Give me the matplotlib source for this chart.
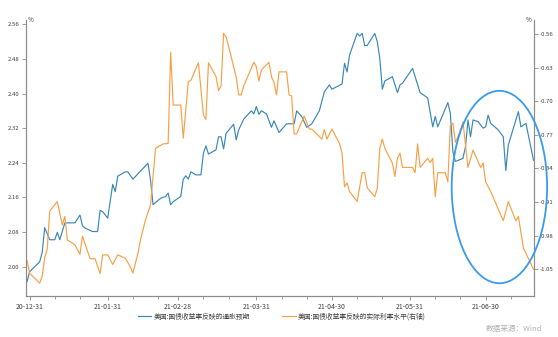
import numpy as np
import pandas as pd
import matplotlib
matplotlib.use("Agg")
import matplotlib.pyplot as plt
import matplotlib.dates as mdates
from matplotlib.patches import Ellipse

plt.rcParams['font.family'] = ['Noto Sans CJK SC', 'DejaVu Sans']

# 通胀预期 (左轴, %)
infl_dates = [
    "2020-12-30", "2020-12-31", "2021-01-04", "2021-01-05", "2021-01-06", "2021-01-08", "2021-01-10", "2021-01-11", "2021-01-12", "2021-01-14",
    "2021-01-18", "2021-01-20", "2021-01-21", "2021-01-22", "2021-01-25", "2021-01-27", "2021-01-28", "2021-01-29", "2021-01-31", "2021-02-02",
    "2021-02-03", "2021-02-04", "2021-02-07", "2021-02-08", "2021-02-10", "2021-02-16", "2021-02-17", "2021-02-18", "2021-02-21", "2021-02-23",
    "2021-02-24", "2021-02-25", "2021-02-26", "2021-03-01", "2021-03-02", "2021-03-03", "2021-03-04", "2021-03-05", "2021-03-07", "2021-03-09",
    "2021-03-10", "2021-03-11", "2021-03-12", "2021-03-15", "2021-03-16", "2021-03-17", "2021-03-18", "2021-03-19", "2021-03-22", "2021-03-23",
    "2021-03-24", "2021-03-26", "2021-03-29", "2021-03-30", "2021-03-31", "2021-04-01", "2021-04-02", "2021-04-04", "2021-04-06", "2021-04-07",
    "2021-04-09", "2021-04-12", "2021-04-15", "2021-04-16", "2021-04-18", "2021-04-20", "2021-04-22", "2021-04-25", "2021-04-27", "2021-04-29",
    "2021-04-30", "2021-05-04", "2021-05-05", "2021-05-06", "2021-05-07", "2021-05-10", "2021-05-11", "2021-05-12", "2021-05-13", "2021-05-14",
    "2021-05-17", "2021-05-18", "2021-05-19", "2021-05-20", "2021-05-21", "2021-05-24", "2021-05-26", "2021-05-27", "2021-05-28", "2021-06-01",
    "2021-06-04", "2021-06-07", "2021-06-09", "2021-06-10", "2021-06-11", "2021-06-15", "2021-06-16", "2021-06-17", "2021-06-18", "2021-06-21",
    "2021-06-22", "2021-06-23", "2021-06-24", "2021-06-25", "2021-06-27", "2021-06-29", "2021-06-30", "2021-07-01", "2021-07-02", "2021-07-05",
    "2021-07-07", "2021-07-08", "2021-07-09", "2021-07-13", "2021-07-14", "2021-07-16", "2021-07-19",
]
infl_vals = [
    1.965, 1.988, 2.011, 2.032, 2.090, 2.062, 2.062, 2.079, 2.062, 2.101,
    2.101, 2.119, 2.094, 2.089, 2.081, 2.081, 2.130, 2.127, 2.112, 2.190,
    2.173, 2.209, 2.219, 2.219, 2.202, 2.239, 2.200, 2.143, 2.158, 2.162,
    2.170, 2.143, 2.150, 2.162, 2.202, 2.210, 2.202, 2.219, 2.212, 2.212,
    2.262, 2.279, 2.260, 2.270, 2.300, 2.300, 2.272, 2.308, 2.329, 2.293,
    2.316, 2.341, 2.360, 2.353, 2.370, 2.352, 2.360, 2.353, 2.322, 2.337,
    2.310, 2.330, 2.330, 2.360, 2.347, 2.322, 2.330, 2.360, 2.404, 2.420,
    2.410, 2.422, 2.470, 2.450, 2.489, 2.539, 2.533, 2.539, 2.511, 2.511,
    2.539, 2.520, 2.481, 2.410, 2.429, 2.439, 2.402, 2.420, 2.424, 2.458,
    2.402, 2.390, 2.323, 2.347, 2.323, 2.379, 2.354, 2.266, 2.243, 2.250,
    2.277, 2.339, 2.300, 2.339, 2.335, 2.320, 2.323, 2.350, 2.331, 2.316,
    2.300, 2.222, 2.281, 2.358, 2.323, 2.331, 2.246,
]

# 实际利率 (右轴, %)
real_dates = [
    "2020-12-30", "2020-12-31", "2021-01-04", "2021-01-05", "2021-01-06", "2021-01-07", "2021-01-08", "2021-01-11", "2021-01-13", "2021-01-14",
    "2021-01-15", "2021-01-18", "2021-01-20", "2021-01-21", "2021-01-24", "2021-01-26", "2021-01-28", "2021-01-29", "2021-01-31", "2021-02-02",
    "2021-02-04", "2021-02-07", "2021-02-09", "2021-02-10", "2021-02-12", "2021-02-13", "2021-02-15", "2021-02-17", "2021-02-19", "2021-02-22",
    "2021-02-24", "2021-02-25", "2021-02-26", "2021-03-01", "2021-03-02", "2021-03-04", "2021-03-05", "2021-03-08", "2021-03-10", "2021-03-11",
    "2021-03-12", "2021-03-15", "2021-03-16", "2021-03-17", "2021-03-18", "2021-03-19", "2021-03-21", "2021-03-23", "2021-03-24", "2021-03-25",
    "2021-03-26", "2021-03-30", "2021-03-31", "2021-04-01", "2021-04-02", "2021-04-05", "2021-04-06", "2021-04-07", "2021-04-08", "2021-04-09",
    "2021-04-12", "2021-04-13", "2021-04-14", "2021-04-15", "2021-04-16", "2021-04-19", "2021-04-21", "2021-04-22", "2021-04-26", "2021-04-27",
    "2021-04-28", "2021-04-30", "2021-05-03", "2021-05-04", "2021-05-05", "2021-05-06", "2021-05-07", "2021-05-10", "2021-05-12", "2021-05-13",
    "2021-05-14", "2021-05-17", "2021-05-18", "2021-05-19", "2021-05-20", "2021-05-21", "2021-05-24", "2021-05-25", "2021-05-26", "2021-05-27",
    "2021-05-28", "2021-06-01", "2021-06-02", "2021-06-03", "2021-06-04", "2021-06-07", "2021-06-08", "2021-06-09", "2021-06-10", "2021-06-11",
    "2021-06-14", "2021-06-15", "2021-06-16", "2021-06-17", "2021-06-18", "2021-06-19", "2021-06-20", "2021-06-21", "2021-06-23", "2021-06-25",
    "2021-06-28", "2021-06-29", "2021-06-30", "2021-07-02", "2021-07-07", "2021-07-09", "2021-07-12", "2021-07-13", "2021-07-15", "2021-07-19",
]
real_vals = [
    -1.031, -1.058, -1.079, -1.065, -1.026, -1.008, -0.929, -0.909, -0.958, -0.940,
    -0.989, -0.999, -1.019, -0.981, -1.028, -1.028, -1.059, -1.020, -1.020, -1.040,
    -1.020, -1.027, -1.045, -1.058, -1.017, -0.989, -0.947, -0.916, -0.798, -0.789,
    -0.788, -0.598, -0.708, -0.708, -0.777, -0.659, -0.657, -0.620, -0.729, -0.738,
    -0.620, -0.649, -0.678, -0.668, -0.559, -0.566, -0.607, -0.650, -0.687, -0.687,
    -0.668, -0.619, -0.628, -0.658, -0.635, -0.619, -0.649, -0.661, -0.687, -0.639,
    -0.639, -0.687, -0.689, -0.768, -0.768, -0.731, -0.758, -0.758, -0.779, -0.759,
    -0.779, -0.758, -0.788, -0.808, -0.878, -0.870, -0.888, -0.909, -0.849, -0.849,
    -0.880, -0.899, -0.881, -0.798, -0.779, -0.798, -0.829, -0.857, -0.819, -0.808,
    -0.838, -0.838, -0.849, -0.789, -0.838, -0.819, -0.828, -0.819, -0.899, -0.849,
    -0.849, -0.868, -0.750, -0.746, -0.786, -0.774, -0.760, -0.743, -0.838, -0.802,
    -0.838, -0.829, -0.868, -0.888, -0.949, -0.909, -0.949, -0.940, -1.006, -1.050,
]

left_ticks = [2.00, 2.08, 2.16, 2.24, 2.32, 2.40, 2.48, 2.56]
right_ticks = [-1.05, -0.98, -0.91, -0.84, -0.77, -0.70, -0.63, -0.56]
month_ends = ["2020-12-31", "2021-01-31", "2021-02-28", "2021-03-31", "2021-04-30", "2021-05-31", "2021-06-30"]

label_infl = "美国:国债收益率反映的通胀预期"
label_real = "美国:国债收益率反映的实际利率水平(右轴)"

c_blue = "#3a87b8"
c_orange = "#f7a046"
c_axis = "#8c8c8c"
c_text = "#404040"

fig = plt.figure(figsize=(5.58, 3.37), dpi=100)
ax = fig.add_axes([0.0466, 0.1217, 0.9095, 0.819])
ax2 = ax.twinx()

l1, = ax.plot(pd.to_datetime(infl_dates), infl_vals, color=c_blue, lw=0.85)
l2, = ax2.plot(pd.to_datetime(real_dates), real_vals, color=c_orange, lw=0.85)

ax.set_xlim(pd.Timestamp("2020-12-29 14:00"), pd.Timestamp("2021-07-19"))
ax.set_ylim(1.932, 2.570)
ax2.set_ylim(-1.1056, -0.531)

ax.set_yticks(left_ticks)
ax.set_yticklabels([f"{v:.2f}" for v in left_ticks])
ax2.set_yticks(right_ticks)
ax2.set_yticklabels([f"{v:.2f}" for v in right_ticks])

ax.set_xticks(pd.to_datetime(month_ends))
ax.xaxis.set_major_formatter(mdates.DateFormatter("%y-%m-%d"))
ax.xaxis.set_minor_locator(mdates.DayLocator(bymonthday=[10, 20]))

for a in (ax, ax2):
    a.spines['top'].set_visible(False)
    for s in ('left', 'right', 'bottom'):
        a.spines[s].set_color(c_axis)
        a.spines[s].set_linewidth(0.8)
    a.tick_params(axis='both', which='major', length=3, width=0.6, color=c_axis,
                  labelsize=4.3, labelcolor=c_text, pad=1.5)
    a.tick_params(axis='x', which='minor', length=2, width=0.6, color=c_axis)
ax.tick_params(axis='x', labelsize=5, pad=2)

ax.text(0.004, 1.0, "%", transform=ax.transAxes, fontsize=4.5, color=c_text,
        ha='left', va='center')
ax.text(0.996, 1.0, "%", transform=ax.transAxes, fontsize=4.5, color=c_text,
        ha='right', va='center')

fig.legend([l1, l2], [label_infl, label_real], loc='center', ncol=2,
           bbox_to_anchor=(0.505, 0.06), frameon=False, fontsize=4.9,
           handlelength=2.0, handletextpad=0.3, columnspacing=4.8,
           labelcolor=c_text)

fig.text(0.972, 0.024, "数据来源：Wind", fontsize=5.5, color="#b0b0b0",
         ha='right', va='center')

# 标注最近一段走势
ell = Ellipse((0.895, 0.445), 0.171, 0.571, transform=fig.transFigure,
              fill=False, edgecolor="#3a9af0", lw=1.3, clip_on=False)
fig.add_artist(ell)

fig.savefig("out.png", dpi=100)
